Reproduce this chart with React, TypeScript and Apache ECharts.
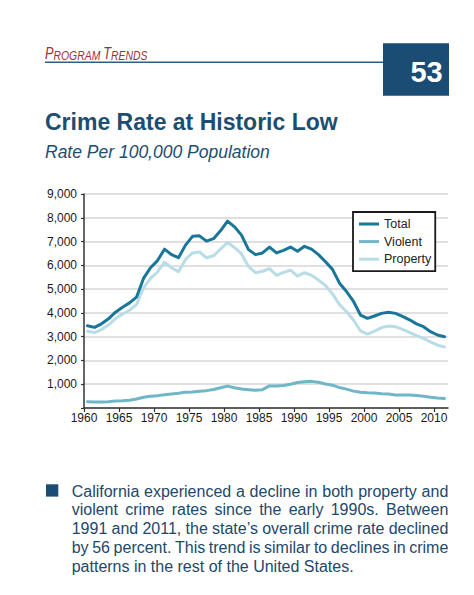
import React, { useEffect, useRef } from 'react';
import * as echarts from 'echarts';

// ---------- data ----------
const FIRST_YEAR = 1960;
const total = [
  3460, 3390, 3540, 3750, 4030, 4240, 4420, 4660, 5450, 5900,
  6200, 6680, 6450, 6320, 6850, 7220, 7240, 7020, 7120, 7450,
  7860, 7620, 7270, 6660, 6450, 6520, 6770, 6520, 6630, 6770,
  6590, 6800, 6680, 6450, 6150, 5830, 5250, 4900, 4480, 3910,
  3770, 3870, 3980, 4030, 3980, 3850, 3710, 3540, 3420, 3210,
  3070, 3000,
];
const violent = [
  260, 250, 250, 260, 290, 300, 330, 380, 450, 490,
  520, 560, 590, 620, 660, 670, 700, 730, 780, 850,
  920, 850, 795, 770, 750, 770, 930, 930, 945, 1000,
  1070, 1100, 1120, 1080, 1010, 960, 860, 795, 710, 660,
  640, 630, 600, 590, 550, 550, 550, 530, 490, 450,
  420, 400,
];
const property = [
  3230, 3170, 3300, 3490, 3760, 3950, 4110, 4350, 5050, 5450,
  5720, 6130, 5900, 5730, 6250, 6520, 6560, 6320, 6400, 6680,
  6960, 6750, 6480, 5950, 5690, 5750, 5860, 5580, 5700, 5800,
  5550, 5690, 5580, 5380, 5150, 4800, 4350, 4050, 3700, 3240,
  3110, 3230, 3380, 3450, 3420, 3310, 3180, 3040, 2930, 2780,
  2640, 2570,
];
const years = total.map((_, i) => FIRST_YEAR + i);
const xTickYears = [1960, 1965, 1970, 1975, 1980, 1985, 1990, 1995, 2000, 2005, 2010];
const seriesNames = ['Total', 'Violent', 'Property'];
const sectionText = '{a|P}{b|ROGRAM} {a|T}{b|RENDS}';
const pageNumber = '53';
const titleText = 'Crime Rate at Historic Low';
const subtitleText = 'Rate Per 100,000 Population';
const paragraphLines = [
  'California experienced a decline in both property and',
  'violent crime rates since the early 1990s. Between',
  '1991 and 2011, the state\u2019s overall crime rate declined',
  'by 56 percent. This trend is similar to declines in crime',
  'patterns in the rest of the United States.',
];

// ---------- styles ----------
const FONT = '"Liberation Sans", Arial, Helvetica, sans-serif';
const C_TOTAL = '#18769a';
const C_VIOLENT = '#6fb6c8';
const C_PROPERTY = '#b8dde6';
const C_NAVY = '#1b4c74';
const C_TEXT_BLUE = '#1d4e72';
const C_RED = '#a0302e';

const central = (baseline: number, size: number) => baseline - 0.3465 * size;

function measure(text: string, font: string): number {
  const ctx = document.createElement('canvas').getContext('2d');
  if (!ctx) return text.length * 8;
  ctx.font = font;
  return ctx.measureText(text).width;
}

function buildParagraph(): any[] {
  const size = 16;
  const left = 71.7;
  const right = 448.3;
  const base0 = 496.7;
  const step = 18.75;
  const fontStr = `${size}px "Liberation Sans"`;
  const out: any[] = [];
  paragraphLines.forEach((line, li) => {
    const y = central(base0 + li * step, size);
    const isLast = li === paragraphLines.length - 1;
    const baseStyle = { fill: '#21486c', fontSize: size, fontFamily: FONT, align: 'left', verticalAlign: 'middle' };
    if (isLast) {
      out.push({ type: 'text', x: left, y, style: { ...baseStyle, text: line } });
      return;
    }
    const words = line.split(' ');
    const widths = words.map((w) => measure(w, fontStr));
    const sum = widths.reduce((a, b) => a + b, 0);
    const gap = (right - left - sum) / (words.length - 1);
    let x = left;
    words.forEach((w, wi) => {
      out.push({ type: 'text', x, y, style: { ...baseStyle, text: w } });
      x += widths[wi] + gap;
    });
  });
  return out;
}

export default function App() {
  const ref = useRef<HTMLDivElement>(null);

  useEffect(() => {
    if (!ref.current) return;
    const chart = echarts.init(ref.current, null, { renderer: 'svg' });

    const mk = (name: string, values: number[], color: string, z: number) => ({
      name,
      type: 'line',
      data: years.map((y, i) => [y + 0.5, values[i]]),
      symbol: 'none',
      showSymbol: false,
      z,
      lineStyle: { color, width: 3, cap: 'round', join: 'round' },
      itemStyle: { color },
    });

    const graphic: any[] = [
      {
        type: 'text',
        x: 45,
        y: 53.8,
        scaleX: 0.8,
        style: {
          text: sectionText,
          fill: C_RED,
          fontSize: 13,
          fontStyle: 'italic',
          fontFamily: FONT,
          verticalAlign: 'middle',
          rich: {
            a: { fontSize: 16, lineHeight: 16, fontStyle: 'italic', fontFamily: FONT, fill: C_RED, verticalAlign: 'bottom' },
            b: { fontSize: 13, lineHeight: 13, fontStyle: 'italic', fontFamily: FONT, fill: C_RED, verticalAlign: 'bottom' },
          },
        },
      },
      {
        type: 'line',
        shape: { x1: 45, y1: 62.3, x2: 384, y2: 62.3 },
        style: { stroke: '#2d5f84', lineWidth: 1.5 },
      },
      {
        type: 'rect',
        shape: { x: 383, y: 43.3, width: 66, height: 52.4 },
        style: { fill: C_NAVY },
      },
      {
        type: 'text',
        x: 426.5,
        y: central(81.7, 29),
        style: { text: pageNumber, fill: '#fff', fontSize: 29, fontWeight: 'bold', fontFamily: FONT, align: 'center', verticalAlign: 'middle' },
      },
      {
        type: 'text',
        x: 45,
        y: central(130, 23),
        style: { text: titleText, fill: C_TEXT_BLUE, fontSize: 23, fontWeight: 'bold', fontFamily: FONT, align: 'left', verticalAlign: 'middle' },
      },
      {
        type: 'text',
        x: 45,
        y: central(158.3, 17.5),
        style: { text: subtitleText, fill: C_TEXT_BLUE, fontSize: 17.5, fontStyle: 'italic', fontFamily: FONT, align: 'left', verticalAlign: 'middle' },
      },
      {
        type: 'rect',
        shape: { x: 46, y: 484.3, width: 12.3, height: 12.3 },
        style: { fill: C_NAVY },
      },
      ...buildParagraph(),
    ];

    const option: any = {
      animation: false,
      backgroundColor: '#ffffff',
      textStyle: { fontFamily: FONT },
      grid: { left: 84, top: 194, width: 364, height: 214, containLabel: false, outerBoundsMode: 'none' },
      legend: {
        data: seriesNames,
        orient: 'vertical',
        left: 353,
        top: 212,
        padding: [5, 4, 5, 6],
        itemGap: 3.6,
        itemWidth: 20,
        itemHeight: 3,
        icon: 'rect',
        borderColor: '#1a1a1a',
        borderWidth: 1.8,
        backgroundColor: '#ffffff',
        selectedMode: false,
        textStyle: { fontSize: 12.5, lineHeight: 14, color: '#222', fontFamily: FONT },
      },
      xAxis: {
        type: 'value',
        min: 1960,
        max: 2012,
        interval: 5,
        axisLine: { show: true, lineStyle: { color: '#333', width: 1.5 } },
        axisTick: { show: true, length: 4, customValues: xTickYears, lineStyle: { color: '#333', width: 1.2 } },
        axisLabel: {
          customValues: xTickYears,
          margin: 4,
          fontSize: 12,
          color: '#1a1a1a',
          fontFamily: FONT,
          formatter: (v: number) => String(v),
        },
        splitLine: { show: false },
      },
      yAxis: {
        type: 'value',
        min: 0,
        max: 9000,
        interval: 1000,
        axisLine: { show: true, lineStyle: { color: '#333', width: 1.5 } },
        axisTick: { show: true, length: 3, lineStyle: { color: '#333', width: 1.2 } },
        axisLabel: {
          margin: 7,
          fontSize: 12,
          color: '#1a1a1a',
          fontFamily: FONT,
          formatter: (v: number) => (v === 0 ? '' : v.toLocaleString('en-US')),
        },
        splitLine: { show: true, lineStyle: { color: '#d6d6d6', width: 1.6 } },
      },
      series: [
        mk('Property', property, C_PROPERTY, 2),
        mk('Violent', violent, C_VIOLENT, 3),
        mk('Total', total, C_TOTAL, 4),
      ],
      graphic,
    };

    chart.setOption(option);
    return () => chart.dispose();
  }, []);

  return (
    <div
      ref={ref}
      style={{ position: 'absolute', left: 0, top: 0, width: 474, height: 595, background: '#fff' }}
    />
  );
}
